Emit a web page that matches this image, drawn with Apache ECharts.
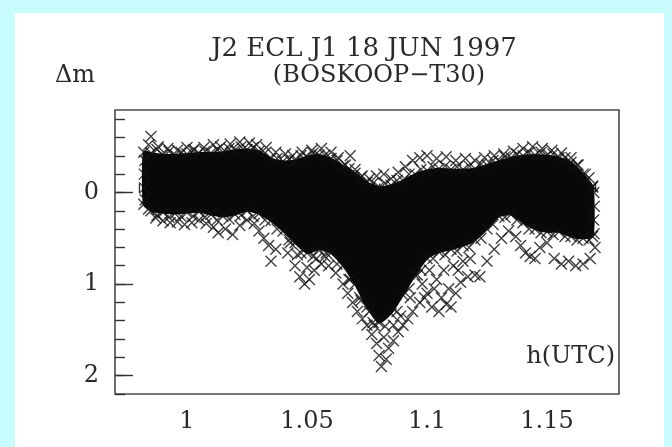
<!DOCTYPE html>
<html>
<head>
<meta charset="utf-8">
<script src="https://cdn.jsdelivr.net/npm/echarts@6/dist/echarts.min.js"></script>
<style>
html,body{margin:0;padding:0;background:#c9fdfd;}
#panel{position:absolute;left:15px;top:13px;width:649px;height:434px;background:#fff;}
#chart{position:absolute;left:0;top:0;width:672px;height:447px;}
</style>
</head>
<body>
<div id="panel"></div>
<div id="chart"></div>
<script>
// time (h UTC) samples along the light curve
const timeH   = [0.982,0.985,0.990,0.995,1.000,1.005,1.010,1.015,1.020,1.025,1.030,1.035,1.040,1.045,1.050,1.055,1.060,1.065,1.070,1.075,1.080,1.085,1.090,1.095,1.100,1.105,1.110,1.115,1.120,1.125,1.130,1.135,1.140,1.145,1.150,1.155,1.160,1.165,1.169];
// upper edge of the dense cloud (delta m)
const coreTop = [-0.44,-0.43,-0.41,-0.41,-0.42,-0.43,-0.43,-0.44,-0.46,-0.47,-0.45,-0.37,-0.34,-0.35,-0.39,-0.41,-0.37,-0.29,-0.21,-0.11,-0.06,-0.08,-0.13,-0.20,-0.24,-0.26,-0.25,-0.25,-0.26,-0.30,-0.34,-0.38,-0.40,-0.41,-0.40,-0.38,-0.33,-0.20,-0.06];
// lower edge of the dense cloud (delta m)
const coreBot = [0.13,0.20,0.22,0.23,0.22,0.21,0.24,0.26,0.24,0.20,0.23,0.31,0.42,0.55,0.66,0.62,0.66,0.80,1.00,1.25,1.42,1.32,1.12,0.90,0.72,0.65,0.62,0.58,0.52,0.40,0.26,0.24,0.33,0.40,0.43,0.43,0.48,0.50,0.48];
// individual measurements around / outside the dense band [h, delta m]
const crossPts = [
 [0.985,-0.61],[0.984,-0.52],[0.988,-0.50],[0.992,-0.48],[0.996,-0.46],[1.000,-0.49],[1.003,-0.47],[1.007,-0.49],[1.011,-0.52],[1.014,-0.50],[1.018,-0.53],[1.022,-0.55],[1.026,-0.54],[1.029,-0.52],[1.033,-0.49],[1.037,-0.44],[1.041,-0.42],
 [0.984,0.18],[0.987,0.28],[0.990,0.31],[0.993,0.33],[0.996,0.32],[0.999,0.35],[1.002,0.33],[1.005,0.30],[1.008,0.34],[1.011,0.38],[1.013,0.44],[1.016,0.40],[1.019,0.46],[1.022,0.36],[1.025,0.30],[1.028,0.34],[1.030,0.42],[1.032,0.50],[1.034,0.58],[1.035,0.75],[1.037,0.62],
 [1.044,-0.40],[1.048,-0.44],[1.052,-0.46],[1.056,-0.48],[1.060,-0.44],[1.063,-0.38],
 [1.042,0.66],[1.045,0.80],[1.047,0.92],[1.049,1.00],[1.051,0.95],[1.053,0.85],[1.056,0.78],[1.059,0.80],[1.062,0.88],
 [1.043,0.55],[1.046,0.68],[1.050,0.82],[1.054,0.72],[1.058,0.66],
 [1.066,-0.30],[1.068,-0.40],[1.070,-0.25],[1.073,-0.18],[1.076,-0.15],[1.079,-0.18],[1.082,-0.20],[1.085,-0.15],[1.088,-0.22],[1.091,-0.28],[1.094,-0.35],
 [1.065,1.00],[1.067,1.10],[1.069,1.20],[1.071,1.30],[1.073,1.38],[1.075,1.45],[1.077,1.55],[1.079,1.65],[1.080,1.78],[1.081,1.90],[1.083,1.82],[1.084,1.70],[1.086,1.62],[1.088,1.52],[1.090,1.45],[1.092,1.38],[1.094,1.30],
 [1.068,0.95],[1.072,1.15],[1.076,1.30],[1.078,1.45],[1.082,1.58],[1.086,1.45],[1.089,1.35],[1.093,1.15],
 [1.097,-0.38],[1.100,-0.40],[1.104,-0.37],[1.108,-0.39],[1.112,-0.35],[1.116,-0.37],[1.120,-0.35],[1.124,-0.38],[1.128,-0.40],[1.132,-0.42],[1.136,-0.45],[1.140,-0.48],[1.144,-0.50],[1.148,-0.48],[1.152,-0.46],[1.156,-0.43],[1.160,-0.38],[1.163,-0.30],[1.166,-0.20],[1.169,-0.07],
 [1.097,1.20],[1.100,1.10],[1.103,1.05],[1.106,1.15],[1.108,1.22],[1.110,1.25],[1.112,1.10],[1.114,0.98],[1.117,0.92],[1.120,0.90],[1.122,0.92],[1.125,0.75],[1.128,0.62],[1.131,0.50],[1.134,0.42],[1.137,0.48],[1.139,0.58],[1.141,0.66],[1.143,0.70],[1.145,0.72],[1.147,0.60],[1.150,0.55],[1.153,0.72],[1.156,0.78],[1.159,0.75],[1.162,0.80],[1.165,0.78],[1.168,0.72],[1.170,0.60],
 [1.096,0.90],[1.098,1.00],[1.099,1.15],[1.101,0.85],[1.102,1.25],[1.104,0.95],[1.105,1.30],[1.107,0.85],[1.109,1.05],[1.111,0.80],[1.113,0.85],[1.115,0.75],[1.118,0.72],
 [0.9875,-0.47],[0.9925,-0.45],[0.9975,-0.44],[1.0025,-0.46],[1.0075,-0.45],[1.0125,-0.47],[1.0175,-0.48],[1.0225,-0.50],[1.0275,-0.49],[1.0325,-0.43],[1.0375,-0.37],[1.0425,-0.36],[1.0475,-0.40],[1.0525,-0.43],[1.0575,-0.41],[1.0625,-0.35],[1.0675,-0.26],[1.0725,-0.17],[1.0775,-0.10],[1.0825,-0.10],[1.0875,-0.13],[1.0925,-0.20],[1.0975,-0.25],[1.1025,-0.28],[1.1075,-0.29],[1.1125,-0.28],[1.1175,-0.29],[1.1225,-0.31],[1.1275,-0.35],[1.1325,-0.39],[1.1375,-0.42],[1.1425,-0.44],[1.1475,-0.44],[1.1525,-0.42],[1.1575,-0.38],[1.1625,-0.30],[1.1675,-0.16],
 [0.9875,0.25],[0.9925,0.27],[0.9975,0.26],[1.0025,0.26],[1.0075,0.27],[1.0125,0.30],[1.0175,0.29],[1.0225,0.25],[1.0275,0.26],[1.0325,0.30],[1.0375,0.40],[1.0425,0.52],[1.0475,0.66],[1.0525,0.70],[1.0575,0.70],[1.0625,0.78],[1.0675,0.95],[1.0725,1.18],[1.0775,1.42],[1.0825,1.46],[1.0875,1.30],[1.0925,1.05],[1.0975,0.85],[1.1025,0.72],[1.1075,0.68],[1.1125,0.64],[1.1175,0.60],[1.1225,0.50],[1.1275,0.35],[1.1325,0.27],[1.1375,0.30],[1.1425,0.40],[1.1475,0.44],[1.1525,0.46],[1.1575,0.48],[1.1625,0.52],[1.1675,0.52],
 [0.9825,-0.35],[0.9822,-0.20],[0.9823,-0.05],[0.9826,0.08],[1.1695,0.00],[1.1697,0.15],[1.1694,0.30],[1.1696,0.45]
];
// axis ticks and labels
const xMinorTicks = [0.98,0.99,1.00,1.01,1.02,1.03,1.04,1.05,1.06,1.07,1.08,1.09,1.10,1.11,1.12,1.13,1.14,1.15,1.16,1.17];
const xMajorTicks = [1.00,1.05,1.10,1.15];
const yMinorTicks = [-0.8,-0.6,-0.4,-0.2,0,0.2,0.4,0.6,0.8,1.0,1.2,1.4,1.6,1.8,2.0,2.2];
const yMajorTicks = [0,1,2];
const titleLine1 = 'J2 ECL J1 18 JUN 1997';
const titleLine2 = '(BOSKOOP\u2212T30)';
const yName = '\u0394m';
const xName = 'h(UTC)';

const FONT = 'DejaVu Serif';
const edgePts = timeH.map((t,i)=>[t,coreTop[i]]).concat(timeH.map((t,i)=>[t,coreBot[i]]));
const chart = echarts.init(document.getElementById('chart'), null, {renderer:'canvas'});

const xBase = {type:'value', min:0.97, max:1.18, gridIndex:0, position:'bottom',
  axisLine:{show:false}, splitLine:{show:false}};
const yBase = {type:'value', min:-0.9, max:2.2, inverse:true, gridIndex:0, position:'left',
  axisLine:{show:false}, splitLine:{show:false}};

chart.setOption({
  animation:false,
  backgroundColor:'transparent',
  grid:{left:115, top:110, right:53, bottom:53, show:true, borderColor:'#4a4a4a', borderWidth:1.6, backgroundColor:'transparent'},
  xAxis:[
    Object.assign({}, xBase, {
      axisTick:{show:true, inside:true, length:9, customValues:xMinorTicks, lineStyle:{color:'#333', width:1.4}},
      axisLabel:{show:true, customValues:xMajorTicks, margin:16, color:'#2a2a2a', fontFamily:FONT, fontSize:24,
        formatter:v=>String(+v.toFixed(2))}
    }),
    Object.assign({}, xBase, {
      axisTick:{show:true, inside:true, length:18, customValues:xMajorTicks, lineStyle:{color:'#333', width:1.4}},
      axisLabel:{show:false}
    })
  ],
  yAxis:[
    Object.assign({}, yBase, {
      axisTick:{show:true, inside:true, length:10, customValues:yMinorTicks, lineStyle:{color:'#333', width:1.4}},
      axisLabel:{show:true, customValues:yMajorTicks, margin:16, color:'#2a2a2a', fontFamily:FONT, fontSize:24,
        formatter:v=>String(v)}
    }),
    Object.assign({}, yBase, {
      axisTick:{show:true, inside:true, length:18, customValues:yMajorTicks, lineStyle:{color:'#333', width:1.4}},
      axisLabel:{show:false}
    })
  ],
  graphic:[
    {type:'text', x:364, y:49, style:{text:titleLine1, font:'26px "DejaVu Serif"', fill:'#2a2a2a', textAlign:'center', textVerticalAlign:'middle'}},
    {type:'text', x:379, y:76, style:{text:titleLine2, font:'24px "DejaVu Serif"', fill:'#2a2a2a', textAlign:'center', textVerticalAlign:'middle'}},
    {type:'text', x:55, y:76, style:{text:yName, font:'24px "DejaVu Serif"', fill:'#2a2a2a', textAlign:'left', textVerticalAlign:'middle'}},
    {type:'text', x:615, y:357, style:{text:xName, font:'24px "DejaVu Serif"', fill:'#2a2a2a', textAlign:'right', textVerticalAlign:'middle'}}
  ],
  series:[
    {
      type:'custom', xAxisIndex:0, yAxisIndex:0, z:2,
      data:[[timeH[0], coreTop[0]]],
      renderItem:function(params, api){
        const pts = [];
        for (let i=0;i<timeH.length;i++) pts.push(api.coord([timeH[i], coreTop[i]]));
        for (let i=timeH.length-1;i>=0;i--) pts.push(api.coord([timeH[i], coreBot[i]]));
        return {type:'polygon', shape:{points:pts, smooth:0.2}, style:{fill:'#080808', stroke:'#080808', lineWidth:2}};
      }
    },
    {
      type:'scatter', xAxisIndex:0, yAxisIndex:0, z:3,
      symbol:'path://M0,0L10,10M10,0L0,10', symbolSize:11,
      itemStyle:{color:'none', borderColor:'#111', borderWidth:1.4},
      data:edgePts.concat(crossPts)
    }
  ]
});
</script>
</body>
</html>
